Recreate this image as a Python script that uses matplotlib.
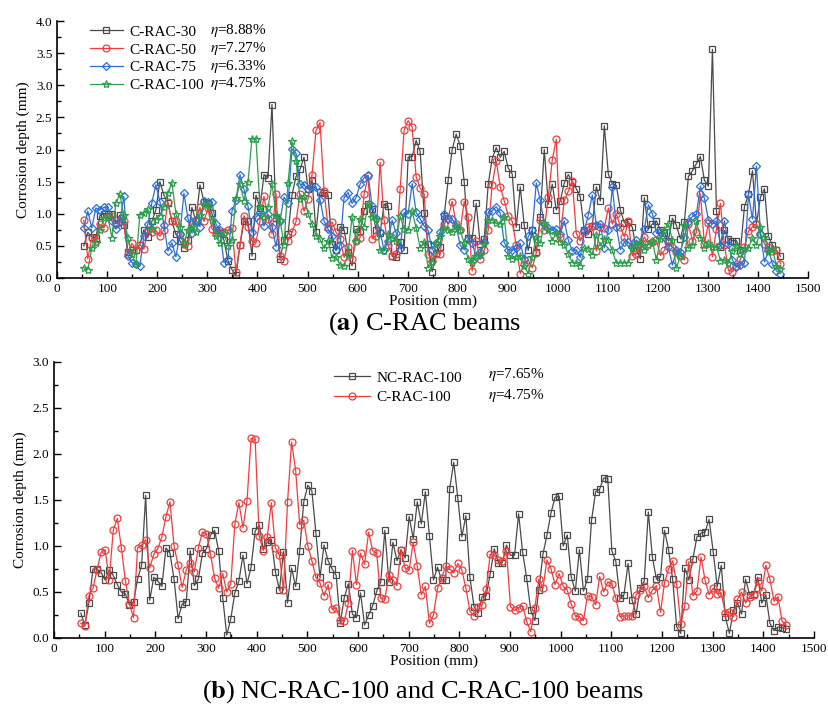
import numpy as np
import matplotlib
matplotlib.use('Agg')
import matplotlib.pyplot as plt
from matplotlib.ticker import MultipleLocator

plt.rcParams['font.family'] = ['Liberation Serif', 'DejaVu Serif']
plt.rcParams['mathtext.fontset'] = 'stix'

# =======================================================
# Measured corrosion depth along the beam (mm), one reading every 8 mm
position = np.arange(53, 1446, 8)

c_rac_30 = [
    0.50, 0.71, 0.64, 0.62, 0.97, 1.00, 1.00, 1.00, 0.85, 0.98, 0.83, 0.40, 0.43, 0.44,
    0.52, 0.75, 0.64, 0.88, 1.06, 1.50, 1.29, 1.17, 0.88, 0.68, 0.58, 0.47, 0.59, 1.10,
    0.88, 1.45, 1.19, 1.17, 1.01, 0.74, 0.70, 0.59, 0.27, 0.13, 0.04, 0.51, 0.88, 0.88,
    0.34, 1.29, 1.09, 1.61, 1.56, 2.70, 0.94, 0.30, 0.59, 0.68, 1.29, 1.58, 1.69, 1.88,
    1.39, 1.52, 0.72, 1.34, 1.32, 1.29, 0.53, 0.43, 0.80, 0.75, 0.40, 0.19, 0.76, 0.73,
    1.05, 1.15, 1.07, 0.75, 0.70, 1.15, 1.12, 0.34, 0.32, 0.56, 0.44, 1.88, 1.89, 2.14,
    1.97, 1.01, 0.53, 0.10, 0.39,
    0.49, 0.97, 1.52, 2.00, 2.24, 2.06, 1.50, 0.62, 0.62, 1.16, 0.53, 0.61, 1.46, 1.86,
    2.03, 1.88, 1.97, 1.71, 1.62, 0.79, 1.42, 0.82, 0.43, 0.74, 0.40, 0.95, 2.00, 1.15,
    1.46, 1.06, 1.20, 1.48, 1.61, 1.50, 1.39, 1.26, 0.74, 0.68, 0.81, 1.42, 1.20, 2.37,
    1.62, 1.47, 1.44,
    1.06, 0.86, 0.87, 0.79, 0.44, 0.30, 1.25, 0.76, 0.84, 0.89, 0.74, 0.70, 0.58, 0.93,
    0.82, 0.61, 0.87, 1.58, 1.67, 1.78, 1.89, 1.52, 1.43, 3.56, 1.05, 0.49, 0.74, 0.61,
    0.58, 0.58, 0.43, 1.11, 1.30, 1.67, 0.84, 1.26, 1.39, 0.65, 0.51, 0.43, 0.34]

c_rac_50 = [
    0.90, 0.30, 0.62, 0.58, 0.84, 0.78, 0.95, 0.97, 0.84, 0.89, 0.88, 0.38, 0.54, 0.44,
    0.52, 0.45, 0.75, 0.72, 0.74, 0.65, 0.75, 1.18, 0.88, 0.88, 0.68, 0.53, 0.50, 0.84,
    0.91, 1.10, 0.88, 1.09, 0.77, 0.70, 0.71, 0.72, 0.74, 0.78, 0.10, 0.51, 0.97, 0.80,
    0.57, 0.55, 0.89, 1.27, 0.92, 0.69, 1.31, 0.35, 0.27, 0.58, 0.71, 0.88, 1.31, 1.04,
    1.23, 1.61, 2.30, 2.42, 1.36, 0.79, 0.87, 0.71, 0.61, 0.32, 0.48, 0.30, 0.58, 0.63,
    1.31, 1.58, 0.61, 0.66, 1.80, 0.90, 0.51, 0.35, 0.37, 1.38, 2.30, 2.45, 2.35, 1.57,
    1.40, 1.31, 0.37, 0.27, 0.38,
    0.38, 0.84, 0.94, 1.19, 0.84, 0.74, 1.19, 0.95, 0.11, 0.58, 0.29, 0.43, 0.75, 1.45,
    1.82, 1.42, 1.20, 0.97, 0.88, 0.51, 0.07, 0.22, 0.28, 0.16, 0.39, 0.90, 0.75, 1.26,
    1.84, 2.16, 0.64, 1.21, 1.35, 1.51, 0.69, 0.58, 0.71, 0.80, 0.81, 0.42, 0.79, 0.78,
    1.09, 0.84, 1.00,
    0.80, 0.64, 0.88, 0.35, 0.38, 0.48, 0.64, 0.53, 0.56, 0.59, 0.35, 0.43, 0.56, 0.48,
    0.41, 0.35, 0.28, 0.84, 0.58, 0.71, 1.31, 0.53, 0.85, 0.33, 0.76, 1.16, 0.51, 0.12,
    0.10, 0.18, 0.29, 0.48, 0.73, 0.80, 0.84, 0.69, 0.53, 0.48, 0.42, 0.43, 0.22]

c_rac_75 = [
    0.78, 1.04, 0.78, 1.09, 1.06, 1.10, 1.10, 0.89, 0.76, 0.87, 1.27, 0.35, 0.24, 0.22,
    0.18, 0.66, 0.84, 1.17, 1.45, 1.19, 0.83, 0.42, 0.55, 0.33, 0.68, 1.32, 0.93, 0.70,
    0.90, 0.80, 1.20, 1.19, 1.18, 0.84, 0.74, 0.24, 0.29, 1.04, 1.21, 1.61, 1.38, 1.12,
    0.71, 0.95, 1.02, 0.81, 0.99, 0.80, 0.49, 0.89, 1.26, 1.16, 2.01, 1.94, 1.46, 1.45,
    1.38, 1.41, 1.41, 1.22, 0.89, 0.76, 0.66, 0.43, 0.51, 1.25, 1.33, 1.16, 1.25, 1.46,
    1.56, 1.60, 1.12, 0.94, 0.71, 0.43, 0.58, 0.90, 0.70, 0.45, 1.02, 1.00, 1.47, 1.02,
    0.92, 0.81, 0.74, 0.44, 0.55,
    0.72, 1.00, 0.92, 0.92, 0.81, 0.51, 0.44, 0.61, 0.54, 0.33, 0.41, 0.56, 1.02, 1.05,
    1.11, 1.01, 0.55, 0.44, 0.43, 0.46, 0.54, 0.29, 0.65, 0.74, 1.48, 1.21, 0.84, 0.78,
    0.74, 0.76, 0.68, 0.89, 0.59, 0.42, 0.44, 0.32, 0.74, 0.98, 1.29, 0.83, 0.84, 0.47,
    0.74, 1.42, 0.80,
    0.44, 0.56, 0.56, 0.48, 0.59, 0.53, 0.76, 1.14, 1.00, 0.70, 0.71, 0.64, 0.48, 0.20,
    0.43, 0.40, 0.64, 0.87, 0.96, 0.99, 1.43, 1.24, 0.90, 0.84, 0.89, 0.51, 0.89, 0.53,
    0.28, 0.17, 0.20, 0.23, 1.30, 0.92, 1.74, 0.69, 0.25, 0.43, 0.22, 0.11, 0.07]

c_rac_100 = [
    0.16, 0.13, 0.46, 0.54, 0.74, 0.93, 0.96, 0.63, 1.17, 1.30, 0.98, 0.62, 0.37, 0.22,
    0.98, 1.01, 1.07, 0.76, 0.91, 0.97, 1.10, 1.32, 1.48, 1.00, 0.79, 0.55, 0.74, 0.81,
    0.72, 0.98, 1.15, 1.13, 0.91, 0.65, 0.54, 0.70, 0.50, 0.59, 1.24, 1.47, 1.20, 1.49,
    2.17, 2.16, 1.11, 0.95, 1.10, 1.47, 0.98, 0.90, 0.52, 1.48, 2.13, 1.82, 1.23, 1.28,
    1.00, 0.84, 0.66, 0.60, 0.46, 0.58, 0.31, 0.33, 0.20, 0.18, 0.38, 0.95, 0.58, 0.92,
    0.80, 1.15, 0.95, 0.92, 0.43, 0.42, 0.69, 0.63, 0.57, 0.96, 0.76, 0.74, 1.04, 0.78,
    0.47, 0.56,
    0.16, 0.25, 0.54, 0.65, 0.78, 0.75, 0.71, 0.81, 0.74, 0.54, 0.29, 0.24, 0.34, 0.36,
    0.53, 0.91, 0.90, 0.85, 0.84, 0.95, 0.34, 0.30, 0.33, 0.35, 0.18, 0.07, 0.33, 0.64,
    0.54, 0.85, 0.75, 0.58, 0.70, 0.56, 0.52, 0.37, 0.24, 0.23, 0.19, 0.46, 0.45, 0.36,
    0.67, 0.50, 0.61, 0.59, 0.43,
    0.23, 0.24, 0.24, 0.24, 0.47, 0.52, 0.56, 0.44, 0.52, 0.57, 0.28, 0.60, 0.75, 0.84,
    0.59, 0.15, 0.35, 0.83, 0.46, 0.51, 0.88, 0.63, 0.47, 0.54, 0.48, 0.49, 0.27, 0.28,
    0.23, 0.42, 0.50, 0.38, 0.45, 0.47, 0.62, 0.51, 0.79, 0.64, 0.40, 0.45, 0.18, 0.14]

nc_rac_100 = [
    0.27, 0.14, 0.38, 0.75, 0.75, 0.71, 0.63, 0.74, 0.68, 0.58, 0.50, 0.48, 0.36, 0.39,
    0.64, 0.79, 1.55, 0.41, 0.66, 0.62, 0.56, 0.98, 0.92, 0.64, 0.21, 0.37, 0.39, 0.95,
    0.57, 0.64, 0.92, 0.97, 1.12, 1.17, 0.95, 0.44, 0.03, 0.21, 0.49, 0.62, 0.90, 0.59,
    0.77, 1.16, 1.23, 0.97, 1.04, 1.07, 0.72, 0.52, 0.94, 0.38, 0.76, 0.56, 0.95, 1.48,
    1.66, 1.60, 1.14, 0.66, 1.01, 0.84, 0.75, 0.68, 0.16, 0.44, 0.59, 0.26, 0.22, 0.49,
    0.14, 0.25, 0.35, 0.51, 0.61, 1.17, 0.61, 1.04, 0.84, 0.96, 0.87, 1.32, 1.08, 1.48,
    1.24, 1.59, 1.11, 0.63, 0.77,
    0.63, 0.63, 1.62, 1.91, 1.52, 1.10, 1.33, 0.66, 0.34, 0.27, 0.45, 0.46, 0.70, 0.97,
    0.82, 0.82, 1.01, 0.90, 0.90, 1.35, 0.93, 0.65, 0.30, 0.19, 0.52, 0.91, 1.12, 1.36,
    1.53, 1.54, 1.00, 1.12, 0.66, 0.51, 0.96, 0.51, 0.64, 1.28, 1.59, 1.62, 1.74, 1.73,
    0.95, 0.83,
    0.43, 0.47, 0.81, 0.41, 0.26, 0.54, 0.62, 1.37, 0.88, 0.64, 0.66, 1.17, 0.96, 0.64,
    0.12, 0.05, 0.76, 0.63, 0.86, 1.10, 1.14, 1.15, 1.29, 0.94, 0.56, 0.79, 0.23, 0.05,
    0.30, 0.38, 0.26, 0.64, 0.47, 0.48, 0.66, 0.38, 0.47, 0.16, 0.08, 0.12, 0.11, 0.10]

labels_a = ['C-RAC-30', 'C-RAC-50', 'C-RAC-75', 'C-RAC-100']
eta_a = ['8.88%', '7.27%', '6.33%', '4.75%']
labels_b = ['NC-RAC-100', 'C-RAC-100']
eta_b = ['7.65%', '4.75%']

col_k, col_r, col_b, col_g = '#4a4a4a', '#f23c3c', '#2a6fdc', '#2f9e4f'

# ========================================================
fig = plt.figure(figsize=(8.29, 7.13), dpi=100)
ax1 = fig.add_axes([0.0691, 0.6101, 0.9056, 0.3604])
ax2 = fig.add_axes([0.0651, 0.1052, 0.9168, 0.3871])

kw = dict(lw=0.9, markersize=5, markerfacecolor='none', markeredgewidth=0.9)
ax1.plot(position, c_rac_30, '-s', color=col_k, label=labels_a[0], **kw)
ax1.plot(position, c_rac_50, '-o', color=col_r, label=labels_a[1], **kw)
ax1.plot(position, c_rac_75, '-D', color=col_b, label=labels_a[2], **dict(kw, markersize=4.5))
ax1.plot(position, c_rac_100, '-*', color=col_g, label=labels_a[3], **dict(kw, markersize=6))

ax2.plot(position, nc_rac_100, '-s', color=col_k, label=labels_b[0], **kw)
ax2.plot(position, c_rac_100, '-o', color=col_r, label=labels_b[1], **kw)

for ax, ytop in [(ax1, 4.0), (ax2, 3.0)]:
    ax.set_xlim(0, 1500)
    ax.set_ylim(0, ytop)
    ax.xaxis.set_major_locator(MultipleLocator(100))
    ax.xaxis.set_minor_locator(MultipleLocator(50))
    ax.yaxis.set_major_locator(MultipleLocator(0.5))
    ax.yaxis.set_minor_locator(MultipleLocator(0.25))
    ax.yaxis.set_major_formatter(matplotlib.ticker.FormatStrFormatter('%.1f'))
    ax.tick_params(which='both', direction='in', labelsize=9.5, width=1)
    ax.tick_params(which='major', length=5)
    ax.tick_params(which='minor', length=3)
    ax.spines['top'].set_visible(False)
    ax.spines['right'].set_visible(False)
    for s in ['left', 'bottom']:
        ax.spines[s].set_linewidth(1.2)
    ax.set_xlabel('Position (mm)', fontsize=11, labelpad=0)
    ax.set_ylabel('Corrosion depth (mm)', fontsize=11, labelpad=4)

leg1 = ax1.legend(loc='upper left', bbox_to_anchor=(0.035, 1.008), frameon=False,
                  fontsize=11, handlelength=2.2, handletextpad=0.4, labelspacing=0.27,
                  borderaxespad=0.0)
for i, e in enumerate(eta_a):
    ax1.text(0.204, 0.965 - 0.07 * i, r'$\eta$=' + e, transform=ax1.transAxes,
             fontsize=11, va='center', ha='left')

leg2 = ax2.legend(loc='upper left', bbox_to_anchor=(0.36, 0.99), frameon=False,
                  fontsize=11, handlelength=2.4, handletextpad=0.4, labelspacing=0.4,
                  borderaxespad=0.0)
for i, e in enumerate(eta_b):
    ax2.text(0.571, 0.953 - 0.073 * i, r'$\eta$=' + e, transform=ax2.transAxes,
             fontsize=11, va='center', ha='left')

fig.text(0.512, 1 - 324 / 713, r'($\mathbf{a}$) C-RAC beams', ha='center', va='center', fontsize=19)
fig.text(0.51, 1 - 692 / 713, r'($\mathbf{b}$) NC-RAC-100 and C-RAC-100 beams',
         ha='center', va='center', fontsize=19)

fig.savefig('out.png', dpi=100)
